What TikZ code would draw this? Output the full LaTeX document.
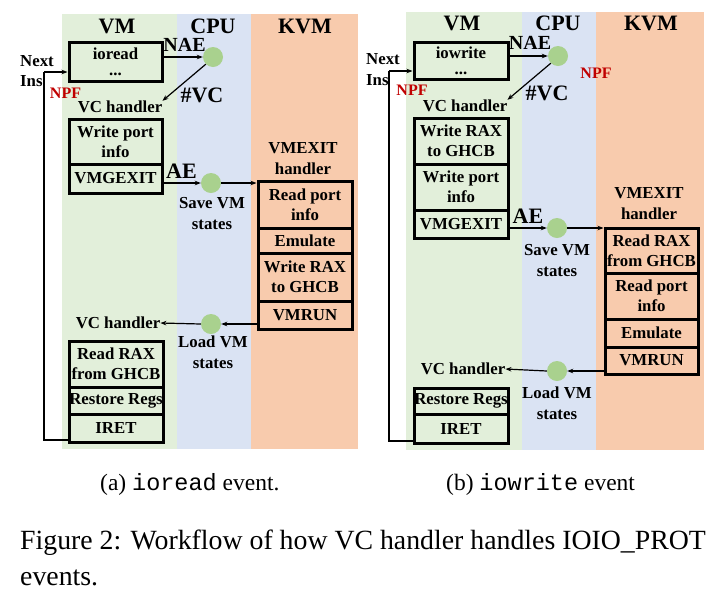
\documentclass[tikz,border=0pt]{standalone}
\usepackage{fontspec}
\setmainfont{Liberation Serif}
\setmonofont{Liberation Mono}
\usetikzlibrary{arrows.meta,calc}
\definecolor{cgreen}{RGB}{226,239,218}
\definecolor{cblue}{RGB}{218,227,243}
\definecolor{corange}{RGB}{248,203,173}
\definecolor{cdot}{RGB}{169,209,142}
\definecolor{cred}{RGB}{192,0,0}
\begin{document}
\begin{tikzpicture}[x=1pt,y=-1pt,
  blk/.style={draw,line width=3pt,inner sep=0pt,align=center,font=\fontsize{16.8}{20}\selectfont\bfseries},
  lbl/.style={inner sep=0pt,align=center,font=\fontsize{16.8}{21}\selectfont\bfseries},
  big/.style={inner sep=0pt,font=\fontsize{22}{24}\selectfont\bfseries},
  mid/.style={inner sep=0pt,font=\fontsize{20}{22}\selectfont\bfseries},
  npf/.style={inner sep=0pt,text=cred,font=\fontsize{16}{18}\selectfont\bfseries},
  dotnode/.style={circle,fill=cdot,minimum size=20pt,inner sep=0pt},
  arr/.style={-{Stealth[length=6pt,width=4.5pt]},line width=1.2pt},
  loopline/.style={line width=1.4pt},
  captxt/.style={inner sep=0pt,anchor=west}]
\useasboundingbox (0,0) rectangle (723,606);
% ---------------- panel (a) backgrounds
\fill[cgreen] (62,14) rectangle (177,449);
\fill[cblue] (177,14) rectangle (251,449);
\fill[corange] (251,14) rectangle (358,449);
% ---------------- panel (b) backgrounds
\fill[cgreen] (406,12) rectangle (522,450);
\fill[cblue] (522,12) rectangle (596,450);
\fill[corange] (596,12) rectangle (704,450);

% ================= panel (a)
\node[big] (aVM) at (117,26) {VM};
\node[big] (aCPU) at (213,26) {CPU};
\node[big] (aKVM) at (305,26) {KVM};

\node[blk,minimum width=93pt,minimum height=39pt] (aio) at (115.5,61.5) {ioread\\[-4pt]...};
\node[blk,minimum width=93pt,minimum height=45pt] (awp) at (115.5,141.5) {Write port\\info};
\node[blk,minimum width=93pt,minimum height=29pt] (avmg) at (115.5,178.5) {VMGEXIT};
\node[blk,minimum width=94pt,minimum height=46pt] (arr) at (116,364) {Read RAX\\from GHCB};
\node[blk,minimum width=94pt,minimum height=27pt] (arest) at (116,400.5) {Restore Regs};
\node[blk,minimum width=94pt,minimum height=28pt] (airet) at (116,428) {IRET};

\node[blk,minimum width=94pt,minimum height=47pt] (arp) at (305,204.5) {Read port\\info};
\node[blk,minimum width=94pt,minimum height=25pt] (aem) at (305,240.5) {Emulate};
\node[blk,minimum width=94pt,minimum height=48pt] (awr) at (305,277) {Write RAX\\to GHCB};
\node[blk,minimum width=94pt,minimum height=28pt] (arun) at (305,315) {VMRUN};

\node[dotnode] (ac1) at (213,57) {};
\node[dotnode] (ac2) at (211,183) {};
\node[dotnode] (ac3) at (211,324) {};

\node[mid] (anae) at (184.5,45) {NAE};
\node[big] (avc) at (202,95) {\#VC};
\node[big] (aae) at (181.5,171) {AE};
\node[lbl] (avch) at (120,107) {VC handler};
\node[lbl] (avch2) at (118,323) {VC handler};
\node[lbl] (asave) at (212,213.5) {Save VM\\states};
\node[lbl] (aload) at (213,352.5) {Load VM\\states};
\node[lbl] (aexit) at (303,158.5) {VMEXIT\\handler};
\node[lbl,anchor=west] (anext) at (20,61) {Next};
\node[lbl,anchor=west] (ains) at (20,81) {Ins};
\node[npf] (anpf) at (65.5,93) {NPF};

\draw[arr] (aio.east |- ac1) -- (ac1.west);
\draw[arr] (ac1.south west) -- (avch.north east);
\draw[arr] (avmg.east |- ac2) -- (ac2.west);
\draw[arr] (ac2.east) -- (arp.west |- ac2);
\draw[arr] (arun.west |- ac3) -- (ac3.east);
\draw[arr] (ac3.west) -- (avch2.east);
\coordinate (aL1) at (44,440);
\coordinate (aL2) at (44,72);
\draw[loopline] (airet.west |- aL1) -- (aL1) -- (aL2);
\draw[arr] (aL2) -- (aio.west |- aL2);

% ================= panel (b)
\node[big] (bVM) at (462,23) {VM};
\node[big] (bCPU) at (558,23) {CPU};
\node[big] (bKVM) at (651,23) {KVM};

\node[blk,minimum width=94pt,minimum height=37pt] (bio) at (461,60.5) {iowrite\\[-4pt]...};
\node[blk,minimum width=94pt,minimum height=46pt] (bwr) at (461,141) {Write RAX\\to GHCB};
\node[blk,minimum width=94pt,minimum height=46pt] (bwp) at (461,187) {Write port\\info};
\node[blk,minimum width=94pt,minimum height=28pt] (bvmg) at (461,224) {VMGEXIT};
\node[blk,minimum width=94pt,minimum height=26pt] (brest) at (461,401) {Restore Regs};
\node[blk,minimum width=94pt,minimum height=29pt] (biret) at (461,428.5) {IRET};

\node[blk,minimum width=93pt,minimum height=45pt] (brr) at (651.5,250.5) {Read RAX\\from GHCB};
\node[blk,minimum width=93pt,minimum height=46pt] (brp) at (651.5,296) {Read port\\info};
\node[blk,minimum width=93pt,minimum height=28pt] (bem) at (651.5,333) {Emulate};
\node[blk,minimum width=93pt,minimum height=27pt] (brun) at (651.5,360.5) {VMRUN};

\node[dotnode] (bc1) at (558,56) {};
\node[dotnode] (bc2) at (557,228) {};
\node[dotnode] (bc3) at (557,371) {};

\node[mid] (bnae) at (530,43) {NAE};
\node[big] (bvc) at (547,93) {\#VC};
\node[big] (bae) at (528,216) {AE};
\node[npf] (bnpf2) at (596,73) {NPF};
\node[lbl] (bvch) at (465,106) {VC handler};
\node[lbl] (bvch2) at (463,369) {VC handler};
\node[lbl] (bsave) at (557,260.5) {Save VM\\states};
\node[lbl] (bload) at (557,403) {Load VM\\states};
\node[lbl] (bexit) at (649,204) {VMEXIT\\handler};
\node[lbl,anchor=west] (bnext) at (366,59) {Next};
\node[lbl,anchor=west] (bins) at (366,80) {Ins};
\node[npf] (bnpf) at (412,90) {NPF};

\draw[arr] (bio.east |- bc1) -- (bc1.west);
\draw[arr] (bc1.south west) -- (bvch.north east);
\draw[arr] (bvmg.east |- bc2) -- (bc2.west);
\draw[arr] (bc2.east) -- (brr.west |- bc2);
\draw[arr] (brun.west |- bc3) -- (bc3.east);
\draw[arr] (bc3.west) -- (bvch2.east);
\coordinate (bL1) at (389,441);
\coordinate (bL2) at (389,71);
\draw[loopline] (biret.west |- bL1) -- (bL1) -- (bL2);
\draw[arr] (bL2) -- (bio.west |- bL2);

% ================= captions
\node[captxt,font=\fontsize{23.5}{26}\selectfont] (capa) at (100,484) {(a) \texttt{ioread} event.};
\node[captxt,font=\fontsize{23.5}{26}\selectfont] (capb) at (446,484) {(b) \texttt{iowrite} event};
\node[captxt,font=\fontsize{27.8}{32}\selectfont] (fig1) at (20,543) {Figure 2: Workflow of how VC handler handles IOIO\_PROT};
\node[captxt,font=\fontsize{27.8}{32}\selectfont] (fig2) at (20,578) {events.};
\end{tikzpicture}
\end{document}
